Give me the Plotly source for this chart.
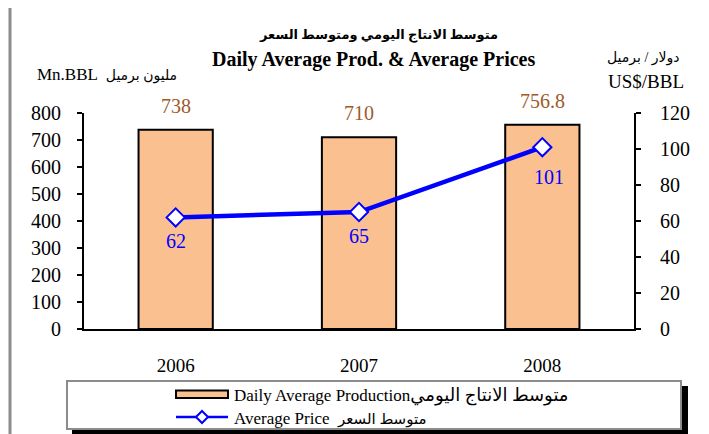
import plotly.graph_objects as go

years = ["2006", "2007", "2008"]
production = [738, 710, 756.8]
production_labels = ["738", "710", "756.8"]
price = [62, 65, 101]
price_labels = ["62", "65", "101"]
left_ticks = [0, 100, 200, 300, 400, 500, 600, 700, 800]
right_ticks = [0, 20, 40, 60, 80, 100, 120]

OFF = 8  # page body margin
WIN_W, WIN_H = 709, 434
L, R, T, B = 84, 634, 113, 329


def px(x):
    return (x - L) / (R - L)


def py(y):
    return (B - y) / (B - T)


SERIF = "Liberation Serif, Times New Roman, DejaVu Serif"
AR = "Liberation Serif, DejaVu Sans"
BAR_COLOR = "#FAC090"
BROWN = "#A0592A"
BLUE = "#0000FF"

fig = go.Figure()
fig.add_trace(go.Bar(
    x=years, y=production, width=0.405,
    marker=dict(color=BAR_COLOR, line=dict(color="black", width=2)),
    showlegend=False, yaxis="y", hoverinfo="skip",
))
fig.add_trace(go.Scatter(
    x=years, y=price, yaxis="y2", mode="lines+markers",
    line=dict(color=BLUE, width=4.5),
    marker=dict(symbol="diamond", size=14, color="white", line=dict(color=BLUE, width=2)),
    showlegend=False, hoverinfo="skip",
))

annotations = []
for i, (v, t) in enumerate(zip(production, production_labels)):
    annotations.append(dict(x=i, y=v, xref="x", yref="y", text=t, showarrow=False,
                            xanchor="center", yanchor="middle", yshift=24,
                            font=dict(family=SERIF, size=20, color=BROWN)))
for i, (v, t) in enumerate(zip(price, price_labels)):
    annotations.append(dict(x=i, y=v, xref="x", yref="y2", text=t, showarrow=False,
                            xanchor="center", yanchor="middle",
                            yshift=(-30 if v > 90 else -24), xshift=(7 if v > 90 else 0),
                            font=dict(family=SERIF, size=20, color=BLUE)))


def note(x, y, text, font, anchor="center"):
    return dict(x=px(x), y=py(y), xref="paper", yref="paper", text=text, showarrow=False,
                xanchor=anchor, yanchor="middle", font=font)


annotations += [
    note(378, 35, "<b>متوسط الانتاج اليومي ومتوسط السعر</b>", dict(family=AR, size=13, color="black")),
    note(373, 59, "<b>Daily Average Prod. & Average Prices</b>", dict(family=SERIF, size=20, color="black")),
    note(35, 74, "Mn.BBL  <span style='font-size:14px'>مليون برميل</span>",
         dict(family=AR, size=17, color="black"), anchor="left"),
    note(644, 58, "دولار / برميل", dict(family=AR, size=14, color="black")),
    note(646, 82, "US$/BBL", dict(family=SERIF, size=19, color="black")),
    note(232, 395, "Daily Average Production<span style='font-size:18px'>متوسط الانتاج اليومي</span>",
         dict(family=AR, size=17, color="black"), anchor="left"),
    note(232, 418, "Average Price  <span style='font-size:15px'>متوسط السعر</span>",
         dict(family=AR, size=17, color="black"), anchor="left"),
]

shapes = [
    # outer frame
    dict(type="rect", xref="paper", yref="paper", x0=px(10), x1=px(704), y0=py(6), y1=py(445),
         line=dict(color="#8C8C8C", width=3), fillcolor="rgba(0,0,0,0)", layer="below"),
    # legend shadow
    dict(type="rect", xref="paper", yref="paper", x0=px(72), x1=px(688), y0=py(386), y1=py(440),
         line=dict(width=0), fillcolor="black", layer="below"),
    # legend box
    dict(type="rect", xref="paper", yref="paper", x0=px(67), x1=px(681), y0=py(381), y1=py(429),
         line=dict(color="#8C8C8C", width=2), fillcolor="white", layer="below"),
    # legend swatch bar
    dict(type="rect", xref="paper", yref="paper", x0=px(176), x1=px(228), y0=py(390.5), y1=py(398),
         line=dict(color="black", width=2), fillcolor=BAR_COLOR),
    # legend line
    dict(type="line", xref="paper", yref="paper", x0=px(176), x1=px(228), y0=py(417), y1=py(417),
         line=dict(color=BLUE, width=2.5)),
    dict(type="path", xref="paper", yref="paper", xsizemode="pixel", ysizemode="pixel",
         xanchor=px(202), yanchor=py(417), path="M -6 0 L 0 6 L 6 0 L 0 -6 Z",
         line=dict(color=BLUE, width=2), fillcolor="white"),
]

axis_common = dict(showgrid=False, zeroline=False, linecolor="black", linewidth=2,
                   tickcolor="black", tickwidth=2, ticklen=5)

fig.update_layout(
    width=WIN_W - OFF, height=WIN_H - OFF, autosize=False,
    margin=dict(l=L - OFF, r=WIN_W - R, t=T - OFF, b=WIN_H - B, pad=0),
    paper_bgcolor="white", plot_bgcolor="rgba(0,0,0,0)",
    showlegend=False,
    xaxis=dict(type="category", range=[-0.5, 2.5], showline=True, linecolor="black", linewidth=2,
               ticks="", showgrid=False, zeroline=False, ticklabelstandoff=18,
               tickfont=dict(family=SERIF, size=19, color="black")),
    yaxis=dict(range=[0, 800], tickvals=left_ticks, ticks="outside", showline=True,
               ticklabelstandoff=12, tickfont=dict(family=SERIF, size=20, color="black"),
               **axis_common),
    yaxis2=dict(range=[0, 120], tickvals=right_ticks, ticks="outside", showline=True,
                overlaying="y", side="right", anchor="x", ticklabelstandoff=15,
                tickfont=dict(family=SERIF, size=20, color="black"), **axis_common),
    yaxis3=dict(range=[0, 800], tickvals=left_ticks, ticks="inside", showline=False,
                overlaying="y", side="left", anchor="x", showticklabels=False, **axis_common),
    yaxis4=dict(range=[0, 120], tickvals=right_ticks, ticks="inside", showline=False,
                overlaying="y", side="right", anchor="x", showticklabels=False, **axis_common),
    annotations=annotations,
    shapes=shapes,
)

fig.write_html("out.html")
